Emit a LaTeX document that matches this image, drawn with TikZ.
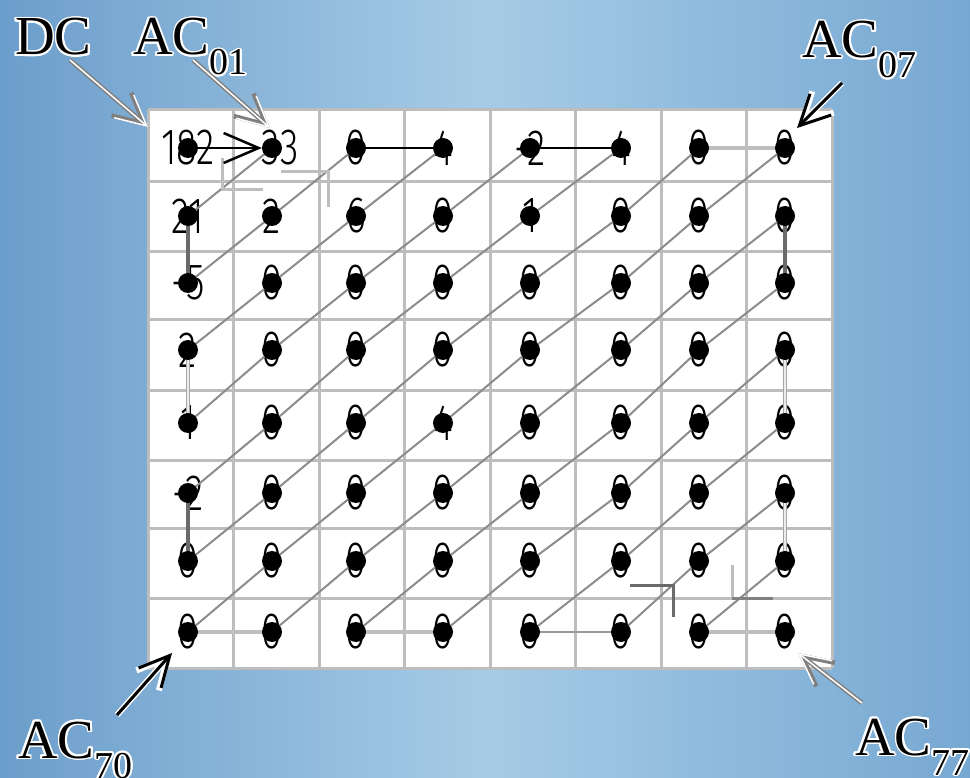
\documentclass[tikz,border=0pt]{standalone}
\usepackage{fontspec}
\setmainfont{Liberation Serif}
\newfontfamily\digitfont[FakeStretch=0.74]{Fira Sans Light}
\usepackage{contour}
\contourlength{1.8pt}
\usetikzlibrary{arrows.meta}
\definecolor{skyL}{HTML}{6C9ECB}
\definecolor{skyM}{HTML}{A6CBE6}
\definecolor{skyR}{HTML}{77A8D2}
\definecolor{gridgray}{HTML}{BDBDBD}
\definecolor{diaggray}{HTML}{8C8C8C}
\definecolor{darkgray}{HTML}{6A6A6A}
\definecolor{lightgray}{HTML}{BEBEBE}
\pgfdeclarelayer{back}
\pgfdeclarelayer{mid}
\pgfsetlayers{back,mid,main}
\tikzset{
  gridline/.style={draw=gridgray, line width=3pt},
  dot/.style={circle, fill=black, inner sep=0pt, minimum size=20pt},
  val/.style={inner sep=0pt, font=\digitfont\fontsize{51}{51}\selectfont},
  diag/.style={draw=diaggray, line width=2pt},
  hblack/.style={draw=black, line width=1.5pt},
  hlight/.style={draw=lightgray, line width=3.5pt},
  hmid/.style={draw=gray!80, line width=2.5pt},
  vdark/.style={draw=darkgray, line width=3.5pt},
  vlight/.style={draw=gray!70, double=gray!15, double distance=2pt, line width=1pt},
  zzmark/.style={line width=3pt},
  lab/.style={inner sep=0pt, anchor=base west, font=\fontsize{55}{60}\selectfont},
  lightarrow/.style={draw=white, line width=1.5pt, preaction={draw=gray, line width=4.5pt},
     -{Straight Barb[length=30pt,width=30pt]}},
  darkarrow/.style={draw=black, line width=3pt, preaction={draw=white, line width=6pt},
     -{Straight Barb[length=30pt,width=30pt]}},
  bigarrow/.style={draw=black, line width=2.5pt, -{Straight Barb[length=35pt,width=30pt]}}
}
\newcommand{\sublab}[1]{\raisebox{-20pt}{\fontsize{38}{40}\selectfont\contour{white}{#1}}}
\begin{document}
\begin{tikzpicture}[x=1pt,y=-1pt]
\useasboundingbox (0,0) rectangle (970,778);
\begin{pgfonlayer}{back}
\shade[left color=skyL, right color=skyR, middle color=skyM] (0,0) rectangle (970,778);
\fill[white] (148,110) rectangle (832,668);
\foreach \x in {148,233.5,319,404.5,490,575.5,661,746.5,832}
  \draw[gridline] (\x,110) -- (\x,668);
\foreach \y in {110,182,252,320,390,460,528,598,668}
  \draw[gridline] (148,\y) -- (832,\y);
\end{pgfonlayer}
% dots
\foreach \r/\y in {0/148,1/216,2/283,3/350,4/423,5/493,6/561,7/632}{
  \foreach \c/\x in {0/188,1/272,2/356,3/443,4/530,5/621,6/699,7/785}{
    \node[dot] (d\r\c) at (\x,\y) {};
  }
}
% values
\begin{pgfonlayer}{back}
\foreach \c/\v in {0/182,2/0,3/4,4/-2,5/4,6/0,7/0} \node[val] (v0\c) at (d0\c) {\v};
\node[val] (v01) at ([xshift=8pt]d01) {33};
\foreach \c/\v in {0/21,1/2,2/6,3/0,4/1,5/0,6/0,7/0} \node[val] (v1\c) at (d1\c) {\v};
\foreach \c/\v in {0/-5,1/0,2/0,3/0,4/0,5/0,6/0,7/0} \node[val] (v2\c) at (d2\c) {\v};
\foreach \c/\v in {0/2,1/0,2/0,3/0,4/0,5/0,6/0,7/0} \node[val] (v3\c) at (d3\c) {\v};
\foreach \c/\v in {0/1,1/0,2/0,3/4,4/0,5/0,6/0,7/0} \node[val] (v4\c) at (d4\c) {\v};
\foreach \c/\v in {0/-2,1/0,2/0,3/0,4/0,5/0,6/0,7/0} \node[val] (v5\c) at (d5\c) {\v};
\foreach \c in {0,...,7} \node[val] (v6\c) at (d6\c) {0};
\foreach \c in {0,...,7} \node[val] (v7\c) at (d7\c) {0};
\end{pgfonlayer}
% zigzag
\begin{pgfonlayer}{mid}
\draw[diag] (d01.center) -- (d10.center);
\draw[diag] (d20.center) -- (d11.center) -- (d02.center);
\draw[diag] (d03.center) -- (d12.center) -- (d21.center) -- (d30.center);
\draw[diag] (d40.center) -- (d31.center) -- (d22.center) -- (d13.center) -- (d04.center);
\draw[diag] (d05.center) -- (d14.center) -- (d23.center) -- (d32.center) -- (d41.center) -- (d50.center);
\draw[diag] (d60.center) -- (d51.center) -- (d42.center) -- (d33.center) -- (d24.center) -- (d15.center) -- (d06.center);
\draw[diag] (d07.center) -- (d16.center) -- (d25.center) -- (d34.center) -- (d43.center) -- (d52.center) -- (d61.center) -- (d70.center);
\draw[diag] (d71.center) -- (d62.center) -- (d53.center) -- (d44.center) -- (d35.center) -- (d26.center) -- (d17.center);
\draw[diag] (d27.center) -- (d36.center) -- (d45.center) -- (d54.center) -- (d63.center) -- (d72.center);
\draw[diag] (d73.center) -- (d64.center) -- (d55.center) -- (d46.center) -- (d37.center);
\draw[diag] (d47.center) -- (d56.center) -- (d65.center) -- (d74.center);
\draw[diag] (d75.center) -- (d66.center) -- (d57.center);
\draw[diag] (d67.center) -- (d76.center);
\draw[hblack] (d02.center) -- (d03.center);
\draw[hblack] (d04.center) -- (d05.center);
\draw[hlight] (d06.center) -- (d07.center);
\draw[hlight] (d70.center) -- (d71.center);
\draw[hlight] (d72.center) -- (d73.center);
\draw[hmid] (d74.center) -- (d75.center);
\draw[hlight] (d76.center) -- (d77.center);
\draw[vdark] (d10.center) -- (d20.center);
\draw[vlight] (d30.center) -- (d40.center);
\draw[vdark] (d50.center) -- (d60.center);
\draw[vdark] (d17.center) -- (d27.center);
\draw[vlight] (d37.center) -- (d47.center);
\draw[vlight] (d57.center) -- (d67.center);
% open arrowheads on the path
\coordinate (m1) at (222,190);
\coordinate (m2) at (328,172);
\coordinate (m3) at (673,585);
\coordinate (m4) at (732,598);
\draw[zzmark, draw=lightgray] (m1) ++(0,-32) -- (m1) -- ++(41,0);
\draw[zzmark, draw=lightgray] (m2) ++(-47,0) -- (m2) -- ++(0,35);
\draw[zzmark, draw=darkgray] (m3) ++(-43,0) -- (m3) -- ++(0,32);
\draw[zzmark, draw=lightgray] (m4) ++(0,-33) -- (m4);
\draw[zzmark, draw=gray] (m4) -- ++(41,0);
\end{pgfonlayer}
\draw[bigarrow] (d00) -- (d01);
% labels
\node[lab] (lDC) at (15,55) {\contour{white}{DC}};
\node[lab] (l01) at (133,55) {\contour{white}{AC}\sublab{01}};
\node[lab] (l07) at (802,58) {\contour{white}{AC}\sublab{07}};
\node[lab] (l70) at (18,758) {\contour{white}{AC}\sublab{70}};
\node[lab] (l77) at (855,755) {\contour{white}{AC}\sublab{77}};
\coordinate (dcS) at (70,60);  \coordinate (dcT) at (148,127);
\coordinate (a01S) at (193,60); \coordinate (a01T) at (270,128);
\coordinate (a07S) at (842,83); \coordinate (a07T) at (797,128);
\coordinate (a70S) at (117,715); \coordinate (a70T) at (172,653);
\coordinate (a77S) at (862,703); \coordinate (a77T) at (798,653);
\draw[lightarrow] (dcS) -- (dcT);
\draw[lightarrow] (a01S) -- (a01T);
\draw[darkarrow] (a07S) -- (a07T);
\draw[darkarrow] (a70S) -- (a70T);
\draw[lightarrow] (a77S) -- (a77T);
\end{tikzpicture}
\end{document}
